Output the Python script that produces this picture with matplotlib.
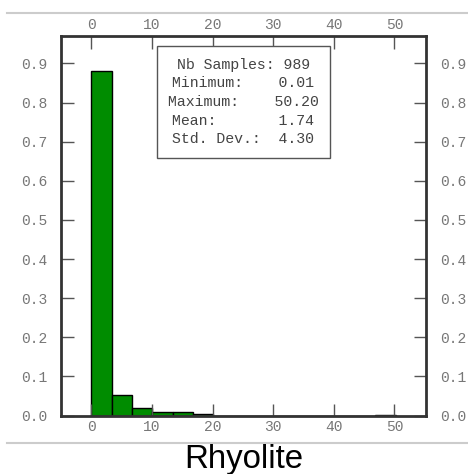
import numpy as np
import matplotlib
matplotlib.use("Agg")
import matplotlib.pyplot as plt
from matplotlib.lines import Line2D

# histogram of samples (fraction of samples per bin)
title = "Rhyolite"
n_samples = 989
v_min = 0.01
v_max = 50.20
v_mean = 1.74
v_std = 4.30
bin_fractions = [0.882, 0.053, 0.019, 0.008, 0.009, 0.005, 0.0, 0.0,
                 0.0, 0.0, 0.0, 0.0, 0.0, 0.0, 0.0015]
x_ticks = [0, 10, 20, 30, 40, 50]
y_ticks = [0.0, 0.1, 0.2, 0.3, 0.4, 0.5, 0.6, 0.7, 0.8, 0.9]

mono = "Liberation Mono"
tick_col = "#777777"

fig = plt.figure(figsize=(4.68, 4.74), dpi=100)
ax = fig.add_axes([61 / 468, 58.5 / 474, 365 / 468, 379.5 / 474])

edges = np.linspace(v_min, v_max, len(bin_fractions) + 1)
ax.bar(edges[:-1], bin_fractions, width=np.diff(edges), align='edge',
       color='#008c00', edgecolor='black', linewidth=1.0)

span = v_max - v_min
ax.set_xlim(v_min - 0.1 * span, v_max + 0.1 * span)
ax.set_ylim(0, max(bin_fractions) * 1.1)
ax.set_xticks(x_ticks)
ax.set_yticks(y_ticks)
ax.set_xticklabels([str(t) for t in x_ticks])
ax.set_yticklabels(["%.1f" % t for t in y_ticks])

ax.tick_params(axis='both', direction='in', length=9, width=1, color='#555555',
               labelcolor=tick_col, labelsize=10.5,
               top=True, right=True, labeltop=True, labelright=True)
ax.tick_params(axis='y', pad=10)
ax.tick_params(axis='x', pad=3)
for t in ax.xaxis.get_major_ticks() + ax.yaxis.get_major_ticks():
    t.label1.set_family(mono)
    t.label2.set_family(mono)

for sp in ax.spines.values():
    sp.set_linewidth(2)
    sp.set_color('#333333')

stats = ("Nb Samples: %d\n"
         "Minimum:    %.2f\n"
         "Maximum:    %.2f\n"
         "Mean:       %.2f\n"
         "Std. Dev.:  %.2f") % (n_samples, v_min, v_max, v_mean, v_std)
ax.text(0.5, 0.826, stats, transform=ax.transAxes, ha='center', va='center',
        multialignment='center', family=mono, fontsize=10.7, color='#444444',
        linespacing=1.43,
        bbox=dict(boxstyle='square,pad=0.75', fc='white', ec='#555555', lw=1))

# separator lines above and below the panel
for y in (461.5 / 474, 30.7 / 474):
    fig.add_artist(Line2D([7 / 468, 1.0], [y, y], transform=fig.transFigure,
                          color='#cccccc', linewidth=1.5))

fig.text(244 / 468, 6 / 474, title, ha='center', va='baseline',
         family='Liberation Sans', fontsize=23.8, color='black')

fig.savefig("out.png", dpi=100)
